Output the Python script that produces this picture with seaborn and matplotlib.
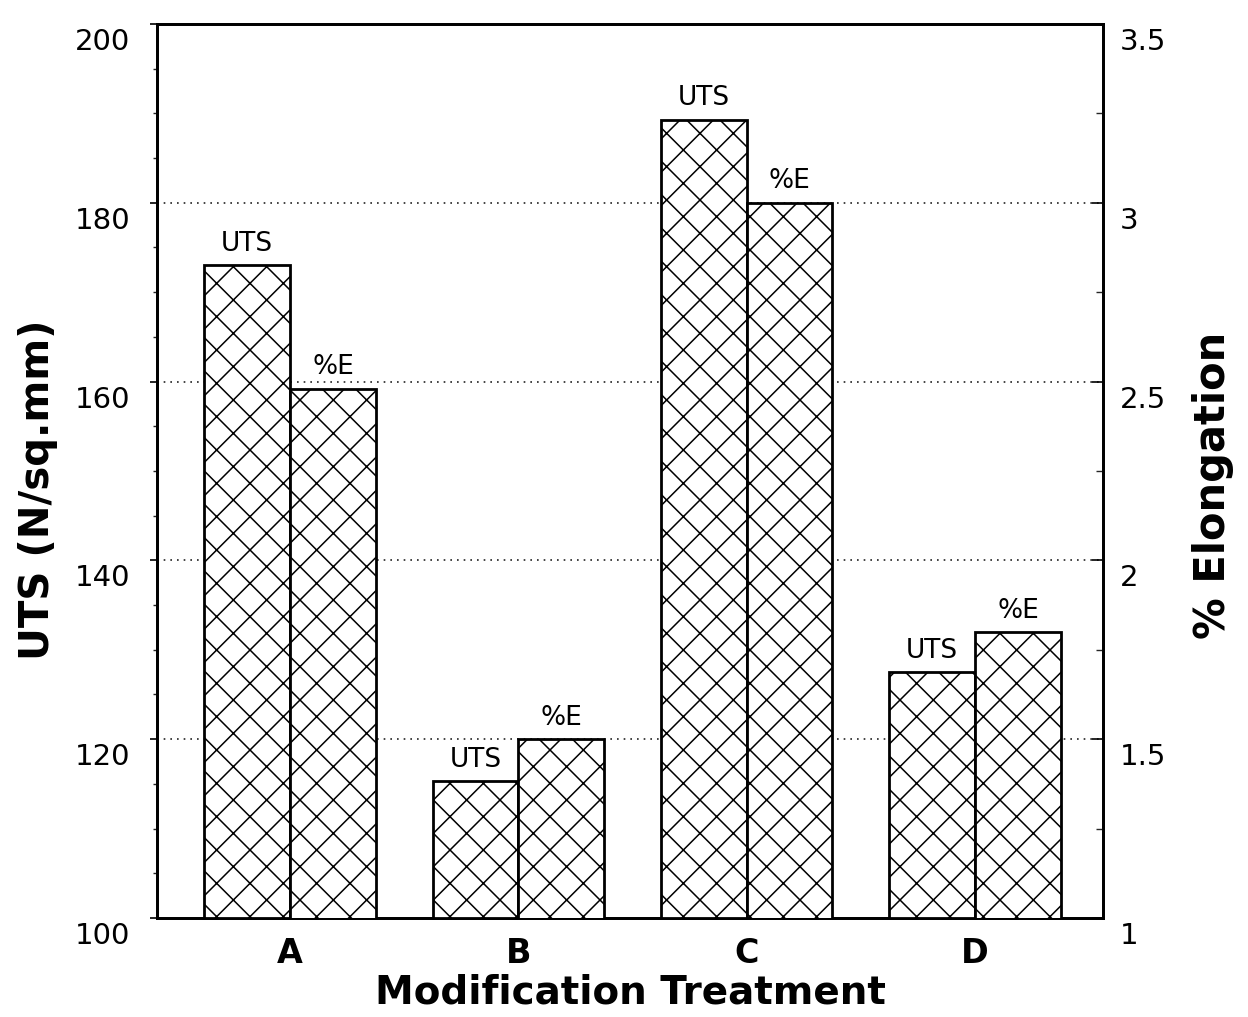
import numpy as np
import pandas as pd
import matplotlib
matplotlib.use("Agg")
import matplotlib.pyplot as plt
import matplotlib.transforms as mtransforms
from matplotlib.ticker import MultipleLocator, FixedLocator
import seaborn as sns

# Tensile results per modification treatment
treatments = ["A", "B", "C", "D"]
uts_values = [173.0, 115.3, 189.3, 127.5]        # N/sq.mm
elongation_values = [2.48, 1.50, 3.00, 1.80]     # % elongation
series_names = ["UTS", "%E"]
left_ticks = [100, 120, 140, 160, 180, 200]
right_ticks = [1, 1.5, 2, 2.5, 3, 3.5]
right_tick_labels = ["1", "1.5", "2", "2.5", "3", "3.5"]

sns.set_theme(style="white")
plt.rcParams["font.family"] = ["DejaVu Sans"]
plt.rcParams["hatch.color"] = "black"
plt.rcParams["hatch.linewidth"] = 1.1

uts_df = pd.DataFrame({"treatment": treatments, "value": uts_values, "series": "UTS"})
el_df = pd.DataFrame({"treatment": treatments, "value": elongation_values, "series": "%E"})

fig = plt.figure(figsize=(12.48, 10.17), dpi=100)
ax = fig.add_axes([0.1258, 0.0974, 0.7580, 0.8790])
ax2 = ax.twinx()

bar_kw = dict(x="treatment", y="value", hue="series", hue_order=series_names,
              order=treatments, dodge=True, width=0.75, gap=0,
              palette={"UTS": "white", "%E": "white"}, legend=False,
              edgecolor="black", linewidth=2.0, saturation=1)
sns.barplot(data=uts_df, ax=ax, **bar_kw)
sns.barplot(data=el_df, ax=ax2, **bar_kw)

for a in (ax, ax2):
    for p in a.patches:
        p.set_hatch("x")
        p.set_facecolor("white")
        p.set_edgecolor("black")
        p.set_zorder(3)

# labels above each bar
for a, name in ((ax, "UTS"), (ax2, "%E")):
    for cont in a.containers:
        a.bar_label(cont, labels=[name] * len(cont), padding=6, fontsize=19,
                    color="black")

ax.set_xlim(-0.583, 3.56)
ax.set_ylim(100, 200)
ax2.set_ylim(1, 3.5)

# dotted reference lines
ax.set_axisbelow(True)
for v in left_ticks[1:-1]:
    ax.axhline(v, color="#222222", linestyle=(0, (1, 3)), linewidth=1.2, zorder=1)

ax.yaxis.set_major_locator(FixedLocator(left_ticks))
ax.yaxis.set_minor_locator(MultipleLocator(5))
ax.set_yticklabels([str(t) for t in left_ticks])
ax2.yaxis.set_major_locator(FixedLocator(right_ticks))
ax2.yaxis.set_minor_locator(MultipleLocator(0.25))
ax2.set_yticklabels(right_tick_labels)

ax.tick_params(axis="y", which="major", direction="out", length=5, width=1.2,
               labelsize=21, pad=14, colors="black", left=True)
ax.tick_params(axis="y", which="minor", direction="out", length=3, width=1, left=True)
ax2.tick_params(axis="y", which="major", direction="in", length=8, width=1.2,
                labelsize=21, pad=12, colors="black", right=True)
ax2.tick_params(axis="y", which="minor", direction="in", length=5, width=1, right=True)
ax.tick_params(axis="x", which="major", direction="in", length=6, width=1, pad=14,
               bottom=True, colors="black")
for lab in ax.get_xticklabels():
    lab.set_fontsize(24)
    lab.set_fontweight("bold")

# numeric labels sit slightly below their ticks
shift = mtransforms.ScaledTranslation(0, -15 / 100, fig.dpi_scale_trans)
for lab in ax.get_yticklabels() + ax2.get_yticklabels():
    lab.set_transform(lab.get_transform() + shift)

for a in (ax, ax2):
    for s in a.spines.values():
        s.set_visible(True)
        s.set_color("black")
        s.set_linewidth(2.0)

ax.set_xlabel("Modification Treatment", fontsize=28, fontweight="bold", color="black")
ax.xaxis.set_label_coords(0.5, -0.062)
ax.set_ylabel("UTS (N/sq.mm)", fontsize=29, fontweight="bold", color="black")
ax.yaxis.set_label_coords(-0.105, 0.479)
ax2.set_ylabel("% Elongation", fontsize=30, fontweight="bold", color="black")
ax2.yaxis.set_label_coords(1.094, 0.484)

fig.savefig("out.png", dpi=100, facecolor="white")
